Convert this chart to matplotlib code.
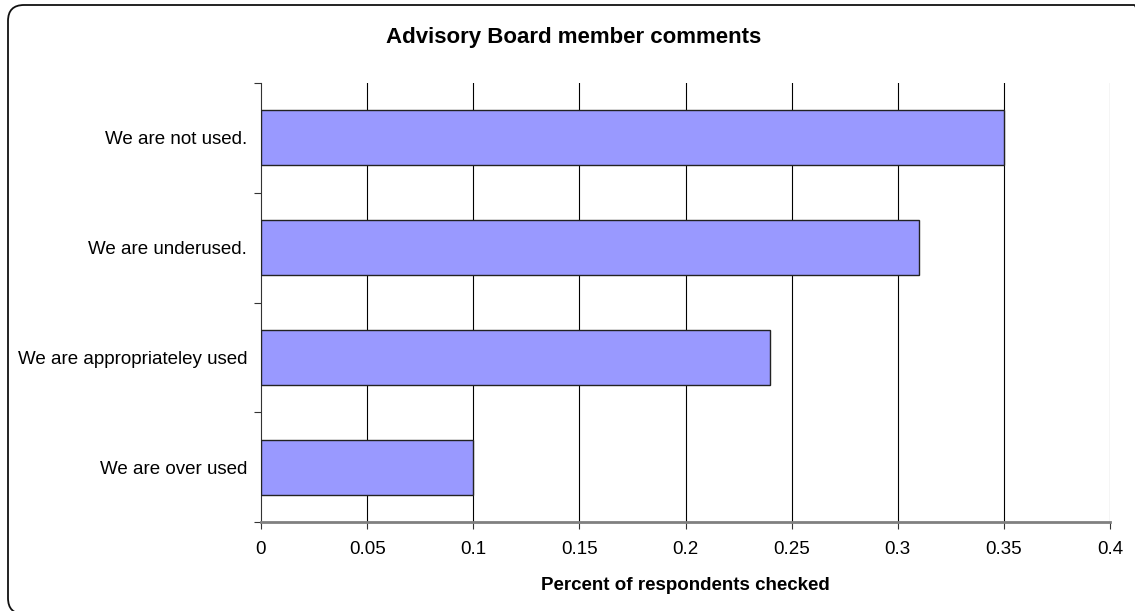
import matplotlib.pyplot as plt
from matplotlib.patches import FancyBboxPatch
from matplotlib.transforms import IdentityTransform

plt.rcParams['font.family'] = ['Liberation Sans', 'DejaVu Sans']

# survey answers, bottom to top
answers = ['We are over used', 'We are appropriateley used',
           'We are underused.', 'We are not used.']
share = [0.10, 0.24, 0.31, 0.35]
x_ticks = [0, 0.05, 0.1, 0.15, 0.2, 0.25, 0.3, 0.35, 0.4]
x_labels = ['0', '0.05', '0.1', '0.15', '0.2', '0.25', '0.3', '0.35', '0.4']

W, H = 1135, 611
fig = plt.figure(figsize=(W / 100, H / 100), dpi=100)

# rounded border round the whole chart (runs past the right and bottom edges)
frame = FancyBboxPatch((8, H - 614), 1142, 609,
                       boxstyle='round,pad=0,rounding_size=16',
                       transform=IdentityTransform(), fill=False,
                       edgecolor='#111111', linewidth=1.3)
fig.patches.append(frame)

ax = fig.add_axes([261 / W, 1 - 522 / H, 849 / W, 439 / H])

ypos = list(range(len(answers)))
ax.barh(ypos, share, height=0.5, color='#9999FF', edgecolor='#222222',
        linewidth=1.0, zorder=3)

ax.set_xlim(0, 0.4)
ax.set_ylim(-0.5, len(answers) - 0.5)

# vertical gridlines, the last one faint
for t in x_ticks[1:-1]:
    ax.axvline(t, color='black', linewidth=0.8, zorder=1)
ax.axvline(x_ticks[-1], color='#d0d0d0', linewidth=1.0, zorder=1)

ax.set_xticks(x_ticks)
ax.set_xticklabels(x_labels, fontsize=13.5)
ax.set_yticks(ypos)
ax.set_yticklabels(answers, fontsize=13.5)
ax.tick_params(axis='y', length=0, pad=10)
ax.set_yticks([y - 0.5 for y in range(len(answers) + 1)], minor=True)
ax.tick_params(axis='y', which='minor', direction='out', length=5, width=0.8, color='#333333')
ax.tick_params(axis='x', direction='out', length=5, width=0.8, pad=9, color='#333333')

for side in ['top', 'right']:
    ax.spines[side].set_visible(False)
ax.spines['left'].set_color('#333333')
ax.spines['left'].set_linewidth(0.8)
ax.spines['bottom'].set_color('#808080')
ax.spines['bottom'].set_linewidth(2)
ax.spines['bottom'].set_zorder(4)

ax.set_xlabel('Percent of respondents checked', fontsize=13.5, fontweight='bold', labelpad=13)
fig.text(574 / W, 1 - 38 / H, 'Advisory Board member comments',
         ha='center', va='center', fontsize=16, fontweight='bold')

fig.savefig('out.png', dpi=100)
